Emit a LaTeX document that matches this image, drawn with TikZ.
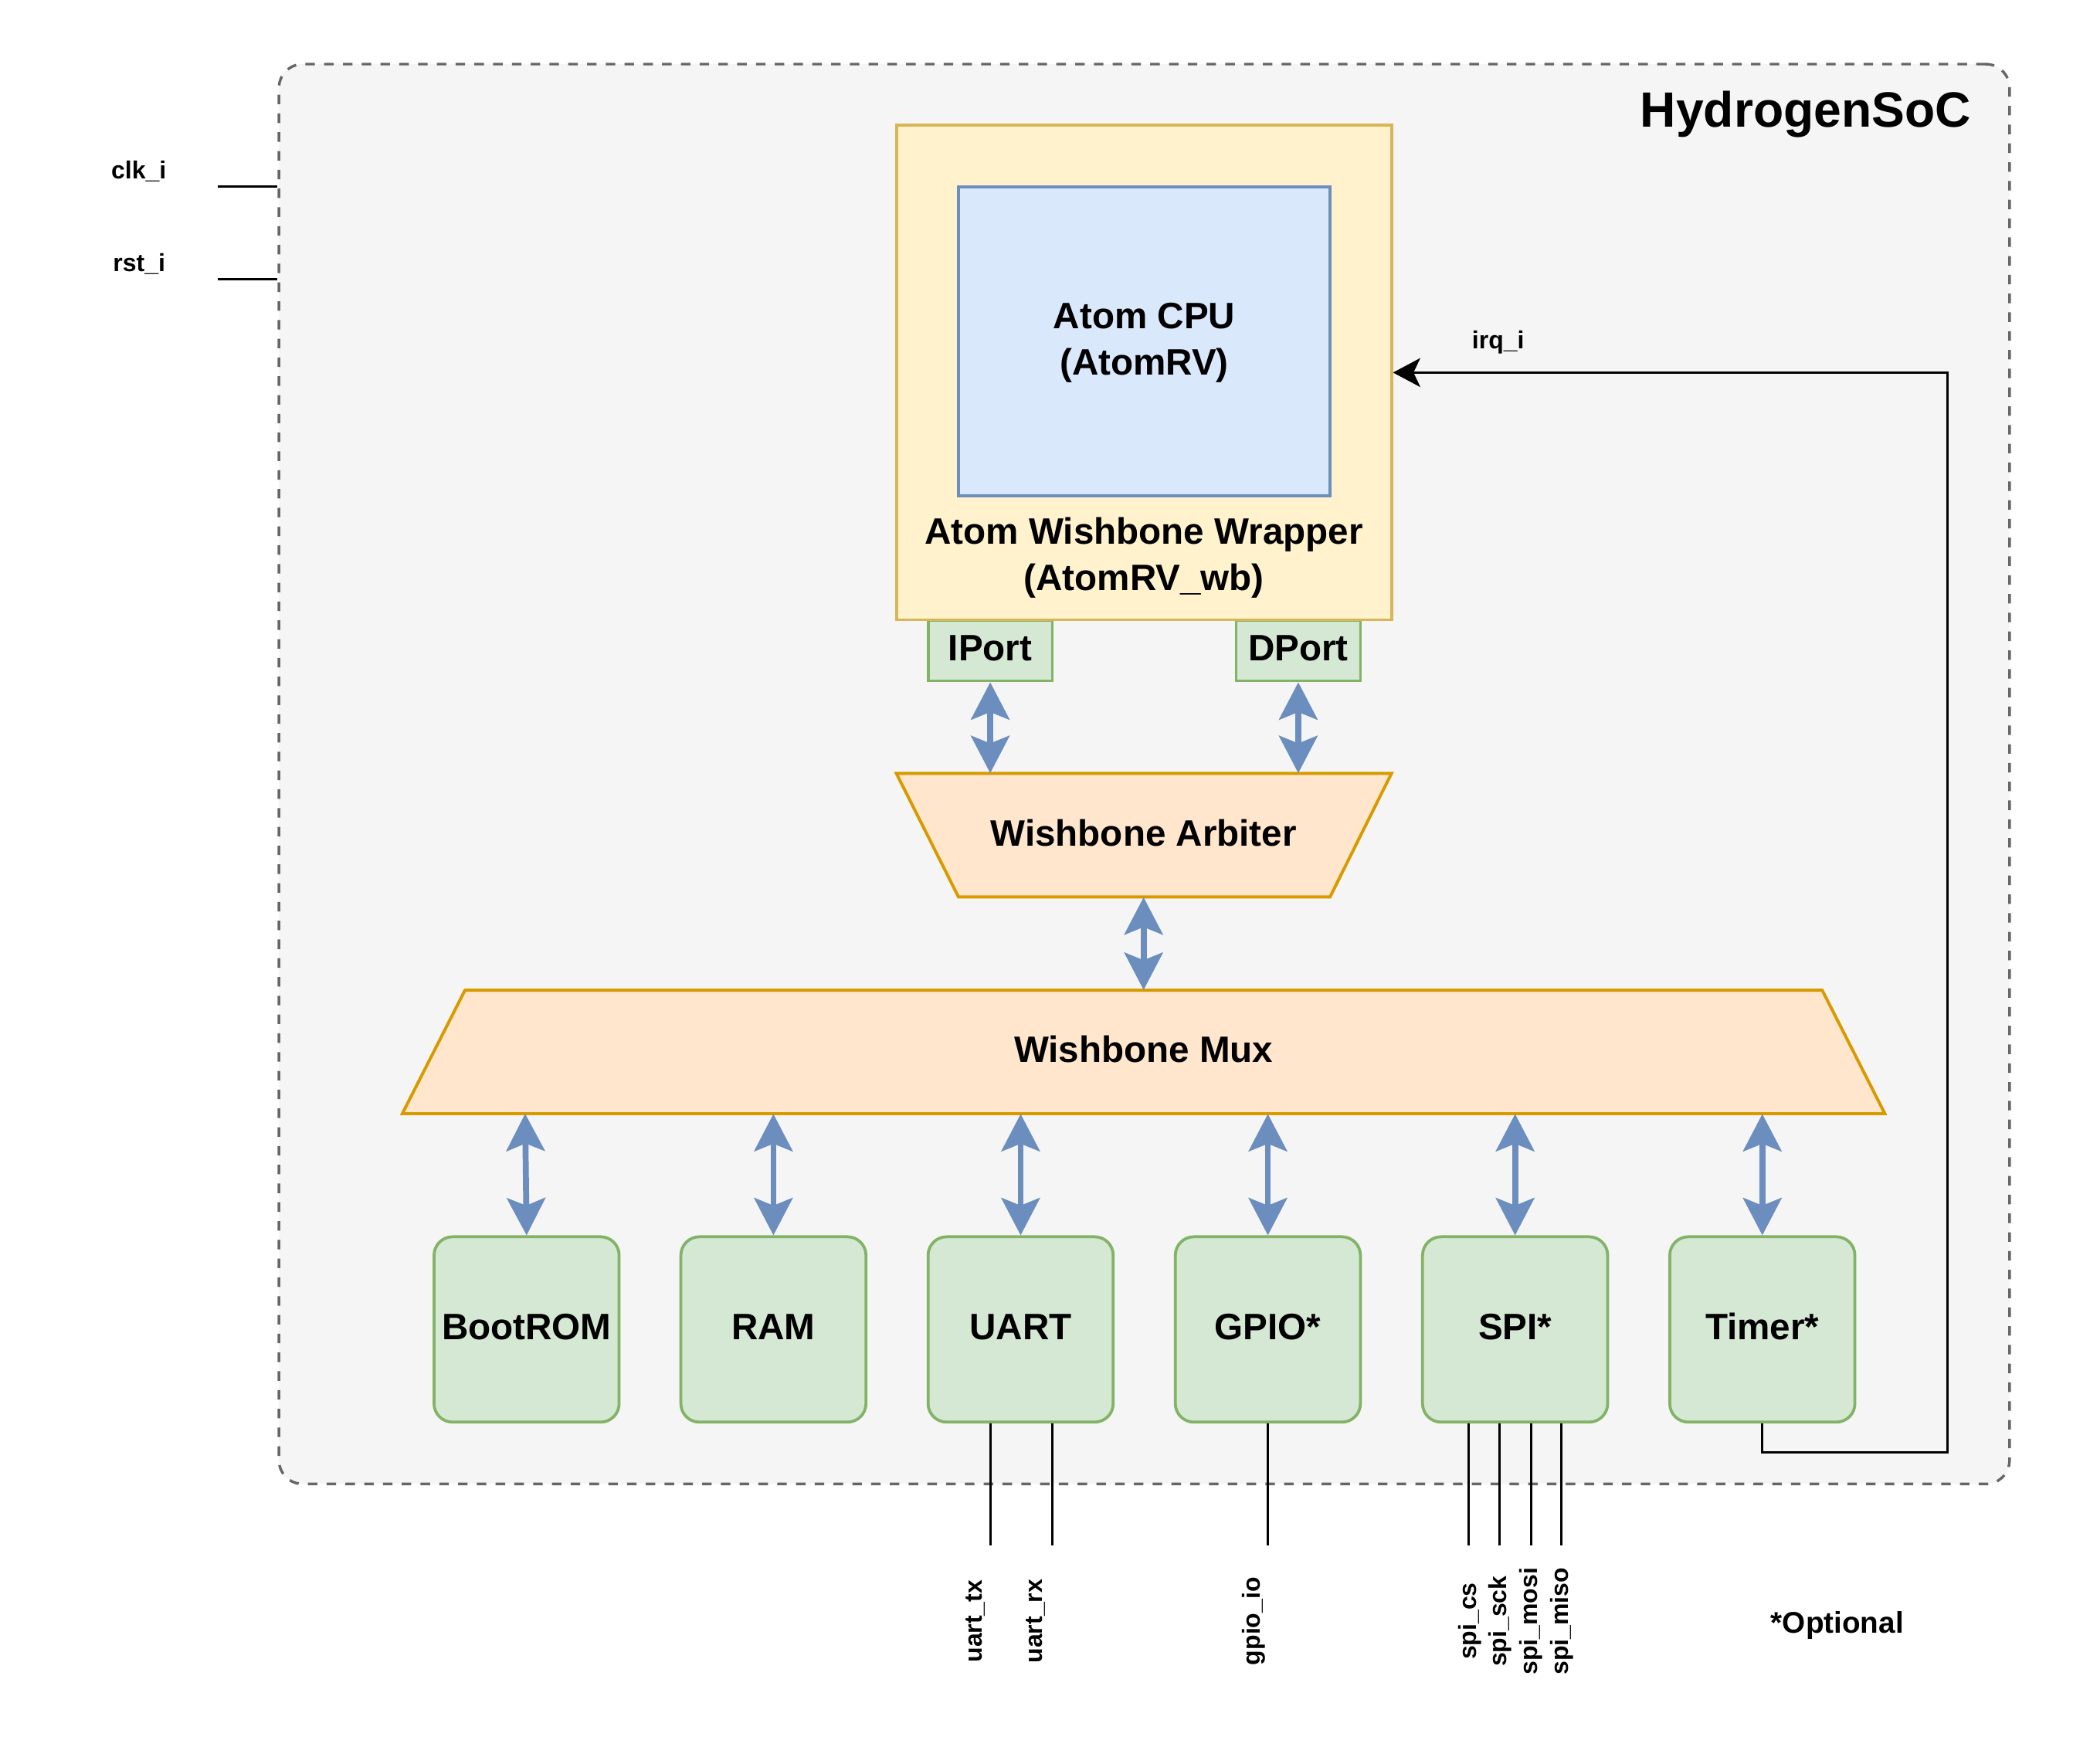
\documentclass[tikz,border=0pt]{standalone}
\usepackage{fontspec}
\setmainfont{Liberation Sans}
\usetikzlibrary{arrows.meta}
\definecolor{contfill}{HTML}{F5F5F5}
\definecolor{contline}{HTML}{666666}
\definecolor{wrapfill}{HTML}{FFF2CC}
\definecolor{wrapline}{HTML}{D6B656}
\definecolor{cpufill}{HTML}{DAE8FC}
\definecolor{cpuline}{HTML}{6C8EBF}
\definecolor{grnfill}{HTML}{D5E8D4}
\definecolor{grnline}{HTML}{82B366}
\definecolor{orgfill}{HTML}{FFE6CC}
\definecolor{orgline}{HTML}{D79B00}
\definecolor{busblue}{HTML}{6C8EBF}
\tikzset{
  lbl/.style={font=\fontsize{27.8}{35}\selectfont\bfseries, align=center},
  onel/.style={text height=20pt, text depth=4.1pt},
  sig/.style={font=\fontsize{18.7}{22}\selectfont\bfseries, inner sep=0pt},
  bus/.style={draw=busblue, line width=4.5pt, {Stealth[length=28.2pt,width=29pt,inset=5.7pt]}-{Stealth[length=28.2pt,width=29pt,inset=5.7pt]}},
  wire/.style={draw=black, line width=1.8pt},
  periph/.style={draw=grnline, fill=grnfill, line width=2.2pt, rounded corners=14pt, minimum width=140pt, minimum height=140.2pt, inner sep=0pt, lbl, onel},
  portbox/.style={draw=grnline, fill=grnfill, line width=2.2pt, minimum width=94pt, minimum height=46pt, inner sep=0pt, lbl, onel},
  trap/.style={draw=orgline, fill=orgfill, line width=2.3pt},
  ghost/.style={inner sep=0pt, lbl, onel},
}
\begin{document}
\begin{tikzpicture}[x=1pt,y=-1pt]
\useasboundingbox (0,0) rectangle (1568,1334);
\fill[white] (0,0) rectangle (1568,1334);

% container
\node[draw=contline, fill=contfill, line width=2pt, dash pattern=on 7.2pt off 7pt, rounded corners=18pt, minimum width=1309pt, minimum height=1074pt, inner sep=0pt] (soc) at (865.5,585.5) {};
\node[font=\fontsize{37.5}{44}\selectfont\bfseries, anchor=base east, inner sep=0pt] (title) at (1491,96) {HydrogenSoC};

% ports and wrapper
\node[portbox] (iport) at (749,492) {IPort};
\node[portbox] (dport) at (982,492) {DPort};
\node[draw=wrapline, fill=wrapfill, line width=2.2pt, minimum width=374.5pt, minimum height=374.1pt, inner sep=0pt] (wrap) at (865.3,281.8) {};
\node[draw=cpuline, fill=cpufill, line width=2.2pt, minimum width=281pt, minimum height=233.5pt, inner sep=0pt] (cpu) at (865.5,258.2) {};
\node[lbl, inner sep=0pt] (cputxt) at (865.5,259.4) {Atom CPU\\(AtomRV)};
\node[lbl, inner sep=0pt] (wraptxt) at (865.3,421.9) {Atom Wishbone Wrapper\\(AtomRV\_wb)};

% arbiter and mux
\draw[trap] (678,585) -- (1052.5,585) -- (1006,678.5) -- (725,678.5) -- cycle;
\node[ghost, minimum width=374pt, minimum height=93.5pt] (arb) at (865,631.75) {Wishbone Arbiter};
\draw[trap] (351.7,749) -- (1378.3,749) -- (1425.7,842.4) -- (304.3,842.4) -- cycle;
\node[ghost, minimum width=1121pt, minimum height=93.4pt] (mux) at (865,795.7) {Wishbone Mux};

% peripherals
\node[periph] (boot) at (398.3,1005.6) {BootROM};
\node[periph] (ram) at (585,1005.6) {RAM};
\node[periph] (uart) at (772,1005.6) {UART};
\node[periph] (gpio) at (959,1005.6) {GPIO*};
\node[periph] (spi) at (1146,1005.6) {SPI*};
\node[periph] (timer) at (1333,1005.6) {Timer*};

% bus arrows
\draw[bus] (iport.south) -- (arb.north -| iport.south);
\draw[bus] (dport.south) -- (arb.north -| dport.south);
\draw[bus] (arb.south) -- (mux.north);
\coordinate (bootup) at (397.2,842.4);
\draw[bus] (bootup) -- (boot.north);
\draw[bus] (mux.south -| ram.north) -- (ram.north);
\draw[bus] (mux.south -| uart.north) -- (uart.north);
\draw[bus] (mux.south -| gpio.north) -- (gpio.north);
\draw[bus] (mux.south -| spi.north) -- (spi.north);
\draw[bus] (mux.south -| timer.north) -- (timer.north);

% clock / reset
\coordinate (clkend) at (164.8,141.2);
\coordinate (rstend) at (164.8,211.3);
\draw[wire] (clkend) -- (clkend -| soc.west);
\draw[wire] (rstend) -- (rstend -| soc.west);
\node[sig, anchor=base] (clklbl) at (105,135.3) {clk\_i};
\node[sig, anchor=base] (rstlbl) at (105.3,205.4) {rst\_i};

% irq
\coordinate (irqc) at (1473,1098.5);
\draw[wire, -{Stealth[length=20.6pt,width=21.8pt,inset=5.1pt]}] (timer.south) |- (irqc) |- (wrap.east);
\node[sig, anchor=base] (irqlbl) at (1133.2,263.8) {irq\_i};

% external signals
\coordinate (tx) at (749,1169);
\coordinate (rx) at (795.8,1169);
\coordinate (gio) at (959,1169);
\coordinate (scs) at (1111,1169);
\coordinate (sck) at (1134,1169);
\coordinate (smosi) at (1158,1169);
\coordinate (smiso) at (1181,1169);
\draw[wire] (uart.south -| tx) -- (tx);
\draw[wire] (uart.south -| rx) -- (rx);
\draw[wire] (gpio.south -| gio) -- (gio);
\draw[wire] (spi.south -| scs) -- (scs);
\draw[wire] (spi.south -| sck) -- (sck);
\draw[wire] (spi.south -| smosi) -- (smosi);
\draw[wire] (spi.south -| smiso) -- (smiso);

\node[sig, rotate=90] (txl) at (737.7,1226.3) {uart\_tx};
\node[sig, rotate=90] (rxl) at (783.5,1226.3) {uart\_rx};
\node[sig, rotate=90] (giol) at (948.4,1226.3) {gpio\_io};
\node[sig, rotate=90] (scsl) at (1111.6,1226.3) {spi\_cs};
\node[sig, rotate=90] (sckl) at (1134.6,1226.3) {spi\_sck};
\node[sig, rotate=90] (smosil) at (1158,1226.3) {spi\_mosi};
\node[sig, rotate=90] (smisol) at (1181.5,1226.3) {spi\_miso};

\node[font=\fontsize{22.6}{27}\selectfont\bfseries, anchor=base, inner sep=0pt] (opt) at (1389.7,1235.4) {*Optional};
\end{tikzpicture}
\end{document}
